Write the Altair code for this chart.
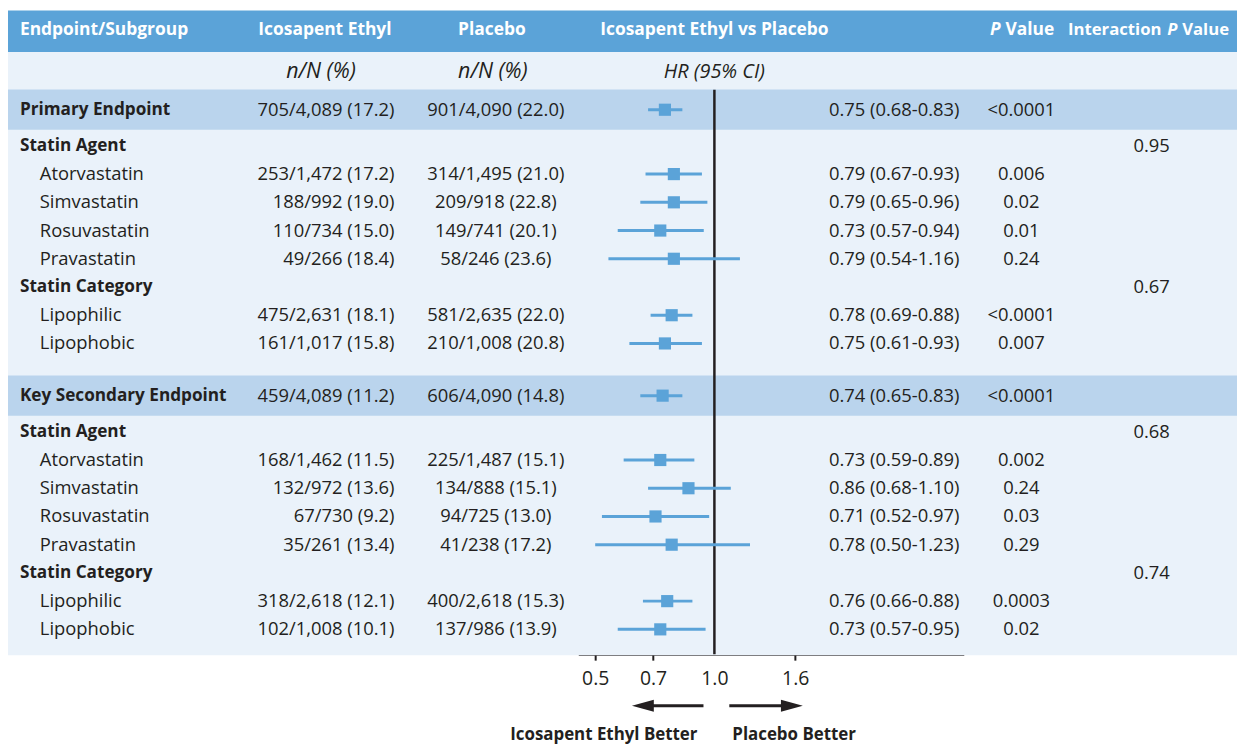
import math
import altair as alt
import pandas as pd

# ---------------- data ----------------
labels = ["Primary Endpoint", "Statin Agent", "Atorvastatin", "Simvastatin", "Rosuvastatin", "Pravastatin",
          "Statin Category", "Lipophilic", "Lipophobic",
          "Key Secondary Endpoint", "Statin Agent", "Atorvastatin", "Simvastatin", "Rosuvastatin", "Pravastatin",
          "Statin Category", "Lipophilic", "Lipophobic"]
kinds = ["endpoint", "group", "item", "item", "item", "item", "group", "item", "item",
         "endpoint", "group", "item", "item", "item", "item", "group", "item", "item"]
icosapent = ["705/4,089 (17.2)", "", "253/1,472 (17.2)", "188/992 (19.0)", "110/734 (15.0)", "49/266 (18.4)",
             "", "475/2,631 (18.1)", "161/1,017 (15.8)",
             "459/4,089 (11.2)", "", "168/1,462 (11.5)", "132/972 (13.6)", "67/730 (9.2)", "35/261 (13.4)",
             "", "318/2,618 (12.1)", "102/1,008 (10.1)"]
placebo = ["901/4,090 (22.0)", "", "314/1,495 (21.0)", "209/918 (22.8)", "149/741 (20.1)", "58/246 (23.6)",
           "", "581/2,635 (22.0)", "210/1,008 (20.8)",
           "606/4,090 (14.8)", "", "225/1,487 (15.1)", "134/888 (15.1)", "94/725 (13.0)", "41/238 (17.2)",
           "", "400/2,618 (15.3)", "137/986 (13.9)"]
hr = [0.75, None, 0.79, 0.79, 0.73, 0.79, None, 0.78, 0.75,
      0.74, None, 0.73, 0.86, 0.71, 0.78, None, 0.76, 0.73]
hr_lo = [0.68, None, 0.67, 0.65, 0.57, 0.54, None, 0.69, 0.61,
         0.65, None, 0.59, 0.68, 0.52, 0.50, None, 0.66, 0.57]
hr_hi = [0.83, None, 0.93, 0.96, 0.94, 1.16, None, 0.88, 0.93,
         0.83, None, 0.89, 1.10, 0.97, 1.23, None, 0.88, 0.95]
p_values = ["<0.0001", "", "0.006", "0.02", "0.01", "0.24", "", "<0.0001", "0.007",
            "<0.0001", "", "0.002", "0.24", "0.03", "0.29", "", "0.0003", "0.02"]
interaction_p = ["", "0.95", "", "", "", "", "0.67", "", "",
                 "", "0.68", "", "", "", "", "0.74", "", ""]
axis_ticks = [0.5, 0.7, 1.0, 1.6]

# ---------------- layout ----------------
W, H = 1237, 648
FONT = "Open Sans"
DARK = "#231f20"
HEADER = "#5ba3d8"
BG = "#eaf2fa"
BAND = "#bad4ed"
MARK = "#5ba3d8"
FS = 18.5      # regular table text
FSB = 17.3     # bold row labels
FSH = 17.5     # header text

# vertical rhythm (in row pitches) between row kinds
gap_rules = {("endpoint", "group"): 1.28, ("item", "endpoint"): 1.85}
slots = [0.0]
for prev, cur in zip(kinds[:-1], kinds[1:]):
    slots.append(slots[-1] + gap_rules.get((prev, cur), 1.0))

hr_text = [f"{h:.2f} ({l:.2f}-{u:.2f})" if h is not None else "" for h, l, u in zip(hr, hr_lo, hr_hi)]

df = pd.DataFrame({
    "label": labels, "kind": kinds, "slot": slots,
    "icosapent": icosapent, "placebo": placebo,
    "hr": hr, "lo": hr_lo, "hi": hr_hi, "hr_text": hr_text,
    "p": p_values, "pint": interaction_p,
})
forest = df[df["hr"].notna()].copy()

# log x scale: HR 1.0 at x=711, 173.1 px per ln unit, axis from 574 to 962
PX_LN, X_REF, X_L, X_R = 173.1, 711, 574, 962
xscale = alt.Scale(type="log", domain=[math.exp((X_L - X_REF) / PX_LN), math.exp((X_R - X_REF) / PX_LN)],
                   range=[X_L, X_R], nice=False, zero=False)
xaxis = alt.Axis(values=axis_ticks, format=".1f", title=None, grid=False,
                 labelFont=FONT, labelFontSize=19.5, labelColor=DARK, labelPadding=10,
                 labelFlush=False, labelOverlap=False,
                 domainColor=DARK, domainWidth=2, tickColor=DARK, tickWidth=2, tickSize=6,
                 tickOpacity={"condition": {"test": "datum.value == 1", "value": 0}, "value": 1})
yscale = alt.Scale(domain=[0, slots[-1]], range=[100, 623], nice=False, zero=False)
Y = alt.Y("slot:Q", scale=yscale, axis=None)

one = pd.DataFrame({"k": [0]})


def box(x1, x2, y1, y2, color):
    return alt.Chart(one).mark_rect(color=color).encode(
        x=alt.value(x1), x2=alt.value(x2), y=alt.value(y1), y2=alt.value(y2))


def label(text, x, y, align="center", weight="normal", style="normal", color=DARK, size=FS):
    return alt.Chart(one).mark_text(text=text, align=align, baseline="middle", font=FONT,
                                    fontSize=size, fontWeight=weight, fontStyle=style,
                                    color=color).encode(x=alt.value(x), y=alt.value(y))


layers = [
    box(0, W, 0, 42, HEADER),
    box(0, W, 42, 649, BG),
    alt.Chart(df).transform_filter("datum.kind == 'endpoint'").mark_rule(
        color=BAND, strokeWidth=40.5, strokeCap="butt").encode(x=alt.value(0), x2=alt.value(W), y=Y),
]

# header row
hy = 20
hdr = dict(weight="bold", color="white", size=FSH)
hdr2 = dict(weight="bold", color="white", size=16.8)
layers += [
    label("Endpoint/Subgroup", 12, hy, "left", **hdr),
    label("Icosapent Ethyl", 319, hy, "center", **hdr),
    label("Placebo", 487, hy, "center", **hdr),
    label("Icosapent Ethyl vs Placebo", 711, hy, "center", **hdr),
    label("P", 999, hy, "right", style="italic", **hdr),
    label("Value", 1004, hy, "left", **hdr),
    label("Interaction", 1161, hy, "right", **hdr2),
    label("P", 1177, hy, "right", style="italic", **hdr2),
    label("Value", 1229, hy, "right", **hdr2),
]
# sub header row
sy = 62
layers += [
    label("n/N (%)", 315, sy, "center", style="italic", size=21.5),
    label("n/N (%)", 488, sy, "center", style="italic", size=21.5),
    label("HR (95% CI)", 711, sy, "center", style="italic", size=20),
]

# reference line at HR = 1
layers.append(
    alt.Chart(pd.DataFrame({"ref": [1.0]})).mark_rule(color=DARK, strokeWidth=2.5).encode(
        x=alt.X("ref:Q", scale=xscale, axis=xaxis), y=alt.value(80), y2=alt.value(H)))

# forest plot
layers += [
    alt.Chart(forest).mark_rule(color=MARK, strokeWidth=3).encode(
        x=alt.X("lo:Q", scale=xscale, axis=xaxis), x2="hi:Q", y=Y),
    alt.Chart(forest).mark_square(color=MARK, size=150, opacity=1).encode(
        x=alt.X("hr:Q", scale=xscale, axis=xaxis), y=Y),
]

# table text columns
txt = dict(baseline="middle", font=FONT, fontSize=FS, color=DARK)
layers += [
    alt.Chart(df).transform_filter("datum.kind != 'item'").mark_text(
        align="left", baseline="middle", font=FONT, fontSize=FSB, color=DARK, fontWeight="bold")
    .encode(x=alt.value(12), y=Y, text="label:N"),
    alt.Chart(df).transform_filter("datum.kind == 'item'").mark_text(align="left", **txt)
    .encode(x=alt.value(32), y=Y, text="label:N"),
    alt.Chart(df).mark_text(align="right", **txt).encode(x=alt.value(389), y=Y, text="icosapent:N"),
    alt.Chart(df).mark_text(align="center", **txt).encode(x=alt.value(491), y=Y, text="placebo:N"),
    alt.Chart(df).mark_text(align="center", **txt).encode(x=alt.value(892), y=Y, text="hr_text:N"),
    alt.Chart(df).mark_text(align="center", **txt).encode(x=alt.value(1020), y=Y, text="p:N"),
    alt.Chart(df).mark_text(align="center", **txt).encode(x=alt.value(1151), y=Y, text="pint:N"),
]

# direction arrows and captions below the axis
ay, cy = 700, 729
layers += [
    alt.Chart(one).mark_rule(color=DARK, strokeWidth=3).encode(
        x=alt.value(645), x2=alt.value(700), y=alt.value(ay)),
    alt.Chart(one).mark_point(shape="M-1,0L1,-0.55L1,0.55Z", size=484, filled=True, opacity=1,
                              color=DARK, strokeWidth=0).encode(x=alt.value(639), y=alt.value(ay)),
    alt.Chart(one).mark_rule(color=DARK, strokeWidth=3).encode(
        x=alt.value(726), x2=alt.value(785), y=alt.value(ay)),
    alt.Chart(one).mark_point(shape="M1,0L-1,-0.55L-1,0.55Z", size=484, filled=True, opacity=1,
                              color=DARK, strokeWidth=0).encode(x=alt.value(789), y=alt.value(ay)),
    label("Icosapent Ethyl Better", 694, cy, "right", "bold", size=17),
    label("Placebo Better", 729, cy, "left", "bold", size=17),
]

chart = alt.layer(*layers).properties(
    width=W, height=H,
    padding={"left": 0, "top": 0, "right": 0, "bottom": 90},
    autosize=alt.AutoSizeParams(type="none"),
    background="white",
).configure_view(stroke=None)

chart.save("out.html", embed_options={"renderer": "svg", "actions": False})
